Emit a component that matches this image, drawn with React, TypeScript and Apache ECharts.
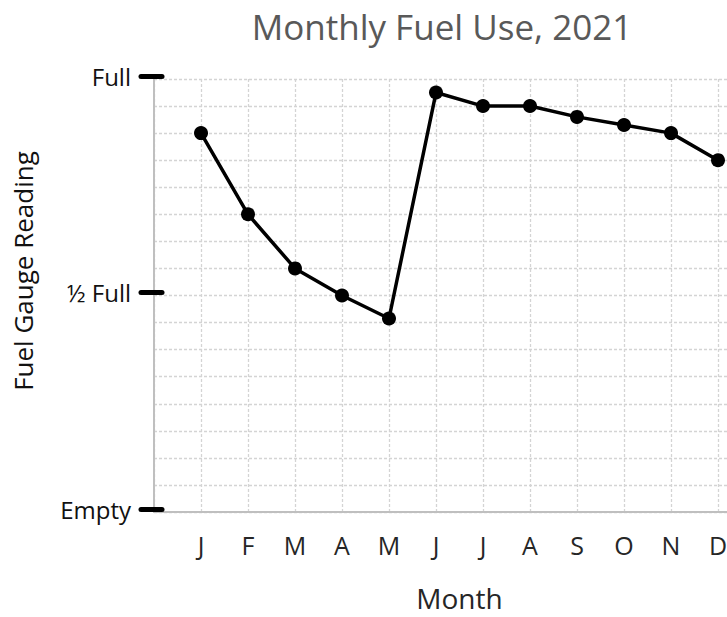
import React, { useEffect, useRef } from "react";
import * as echarts from "echarts";

const months = ["J", "F", "M", "A", "M", "J", "J", "A", "S", "O", "N", "D"];
// readings in sixteenths of a tank (0 = Empty, 16 = Full)
const fuelReading = [14, 11, 9, 8, 7.15, 15.5, 15, 15, 14.6, 14.3, 14, 13];
const gaugeTickValues = [0, 8, 16];
const gaugeTickLabels = ["Empty", "½ Full", "Full"];
const chartTitle = "Monthly Fuel Use, 2021";
const xAxisName = "Month";
const yAxisName = "Fuel Gauge Reading";

const FONT = "'Open Sans', 'Noto Sans', sans-serif";

export default function App() {
  const ref = useRef<HTMLDivElement>(null);
  useEffect(() => {
    const chart = echarts.init(ref.current!, null, { renderer: "svg" });
    const data = fuelReading.map((v, i) => [i + 1, v]);
    chart.setOption({
      animation: false,
      backgroundColor: "#ffffff",
      grid: [
        { left: 154, top: 79, bottom: 105, width: 611, outerBoundsMode: "none", containLabel: false },
        { left: 162, top: 76, bottom: 108, width: 10, outerBoundsMode: "none", containLabel: false },
      ],
      xAxis: [
        {
          type: "value",
          gridIndex: 0,
          min: 0,
          max: 13,
          interval: 1,
          axisLine: { show: true, onZero: false, lineStyle: { color: "#bfbfbf", width: 2 } },
          axisTick: { show: false },
          splitLine: { show: true, lineStyle: { color: "#d4d4d4", type: [3, 2], width: 1.3 } },
          axisLabel: {
            margin: 20,
            fontSize: 25,
            fontFamily: FONT,
            color: "#262626",
            formatter: (v: number) => months[v - 1] ?? "",
          },
          name: xAxisName,
          nameLocation: "middle",
          nameGap: 72,
          nameTextStyle: { fontSize: 28, fontFamily: FONT, color: "#262626" },
        },
        { type: "value", gridIndex: 1, show: false, min: 0, max: 1 },
      ],
      yAxis: [
        {
          type: "value",
          gridIndex: 0,
          min: 0,
          max: 16,
          interval: 1,
          axisLine: { show: true, lineStyle: { color: "#bfbfbf", width: 2 } },
          axisTick: { show: false },
          axisLabel: { show: false },
          splitLine: { show: true, lineStyle: { color: "#d4d4d4", type: [3, 2], width: 1.3 } },
        },
        {
          type: "value",
          gridIndex: 1,
          min: 0,
          max: 16,
          interval: 8,
          axisLine: { show: false },
          axisTick: { show: true, length: 21, lineStyle: { color: "#000", width: 5, cap: "round" } },
          splitLine: { show: false },
          axisLabel: {
            margin: 31,
            fontSize: 24,
            fontFamily: FONT,
            color: "#111",
            formatter: (v: number) => {
              const i = gaugeTickValues.indexOf(v);
              return i >= 0 ? gaugeTickLabels[i] : "";
            },
          },
        },
      ],
      graphic: [
        {
          type: "text",
          x: 442,
          y: 26,
          style: {
            text: chartTitle,
            font: `35px ${FONT}`,
            fill: "#595959",
            align: "center",
            verticalAlign: "middle",
          },
        },
        {
          type: "text",
          x: 23,
          y: 271,
          rotation: Math.PI / 2,
          style: {
            text: yAxisName,
            font: `26px ${FONT}`,
            fill: "#111",
            align: "center",
            verticalAlign: "middle",
          },
        },
      ],
      series: [
        {
          type: "line",
          xAxisIndex: 0,
          yAxisIndex: 0,
          data,
          symbol: "circle",
          symbolSize: 14,
          lineStyle: { color: "#000", width: 3.5 },
          itemStyle: { color: "#000" },
          z: 5,
        },
      ],
    });
    return () => chart.dispose();
  }, []);
  return (
    <div
      ref={ref}
      style={{ position: "fixed", left: 0, top: 0, width: 727, height: 617, overflow: "hidden" }}
    />
  );
}
